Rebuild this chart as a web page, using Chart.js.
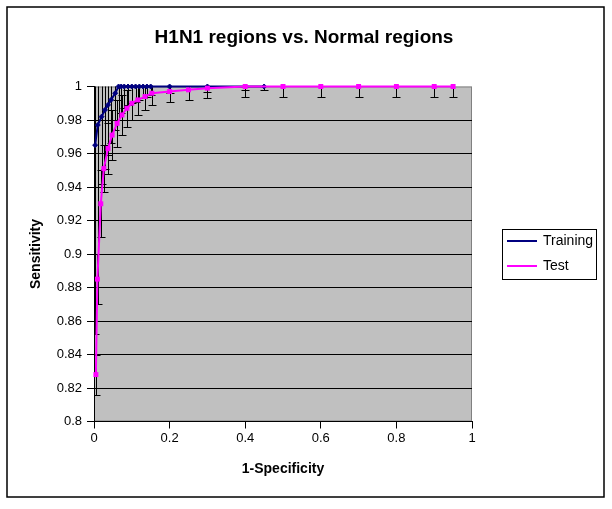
<!DOCTYPE html>
<html>
<head>
<meta charset="utf-8">
<script src="https://cdn.jsdelivr.net/npm/chart.js@4.4.0/dist/chart.umd.min.js"></script>
<style>
    body { margin: 0; background: #fff; }
    #wrap { width: 612px; height: 509px; position: relative; }
</style>
</head>
<body>
<div id="wrap"><canvas id="roc"></canvas></div>
<script>
// valores (1-Specificity, Sensitivity, error)
var trainX = [0.003, 0.01, 0.02, 0.029, 0.037, 0.045, 0.056, 0.065, 0.072, 0.08, 0.09, 0.1, 0.11, 0.12, 0.13, 0.14, 0.15, 0.2, 0.3, 0.4, 0.45];
var trainY = [0.965, 0.977, 0.982, 0.986, 0.989, 0.992, 0.996, 1, 1, 1, 1, 1, 1, 1, 1, 1, 1, 1, 1, 1, 1];
var trainErr = [0.113, 0.107, 0.04, 0.035, 0.03, 0.026, 0.022, 0.02, 0.016, 0.013, 0.011, 0.01, 0.009, 0.008, 0.007, 0.006, 0.005, 0.004, 0.003, 0.002, 0.002];

var testX = [0.005, 0.009, 0.018, 0.026, 0.037, 0.048, 0.061, 0.074, 0.087, 0.1, 0.116, 0.135, 0.153, 0.2, 0.25, 0.3, 0.4, 0.5, 0.6, 0.7, 0.8, 0.9, 0.95];
var testY = [0.828, 0.885, 0.93, 0.951, 0.963, 0.971, 0.978, 0.983, 0.987, 0.99, 0.992, 0.994, 0.996, 0.997, 0.998, 0.999, 1, 1, 1, 1, 1, 1, 1];
var testErr = [0.012, 0.015, 0.02, 0.014, 0.015, 0.015, 0.014, 0.012, 0.011, 0.01, 0.009, 0.008, 0.007, 0.006, 0.006, 0.006, 0.006, 0.006, 0.006, 0.006, 0.006, 0.006, 0.006];

var xTicks = [0, 0.2, 0.4, 0.6, 0.8, 1];
var yTicks = [0.8, 0.82, 0.84, 0.86, 0.88, 0.9, 0.92, 0.94, 0.96, 0.98, 1];

var fam = '"Liberation Sans", Arial, sans-serif';

function puntos(xs, ys) {
    return xs.map(function (x, i) { return { x: x, y: ys[i] }; });
}

var errores = [trainErr, testErr];

// fondo gris del area del grafico
var fondo = {
    id: 'fondo',
    beforeDraw: function (chart) {
        var a = chart.chartArea, c = chart.ctx;
        c.save();
        c.fillStyle = '#c0c0c0';
        c.fillRect(a.left, a.top, a.right - a.left, a.bottom - a.top);
        c.strokeStyle = '#808080';
        c.lineWidth = 1;
        c.strokeRect(a.left + 0.5, a.top + 0.5, a.right - a.left - 1, a.bottom - a.top - 1);
        c.restore();
    }
};

// barras de error verticales
var barrasError = {
    id: 'barrasError',
    beforeDatasetsDraw: function (chart) {
        var c = chart.ctx, a = chart.chartArea;
        var sx = chart.scales.x, sy = chart.scales.y;
        c.save();
        c.beginPath();
        c.rect(a.left, a.top, a.right - a.left, a.bottom - a.top);
        c.clip();
        c.strokeStyle = '#000';
        c.lineWidth = 1;
        chart.data.datasets.forEach(function (ds, d) {
            ds.data.forEach(function (p, i) {
                var e = errores[d][i];
                var px = Math.round(sx.getPixelForValue(p.x)) + 0.5;
                var y1 = Math.round(sy.getPixelForValue(p.y + e)) + 0.5;
                var y2 = Math.round(sy.getPixelForValue(p.y - e)) + 0.5;
                c.beginPath();
                c.moveTo(px, y1); c.lineTo(px, y2);
                c.moveTo(px - 4, y1); c.lineTo(px + 4, y1);
                c.moveTo(px - 4, y2); c.lineTo(px + 4, y2);
                c.stroke();
            });
        });
        c.restore();
    }
};

// coloca titulo y leyenda, marco exterior
var marco = {
    id: 'marco',
    afterLayout: function (chart) {
        var t = chart.titleBlock;
        t.left = 0; t.right = 608; t.width = 608;
        var lg = chart.legend;
        var w = lg.width;
        lg.left = 497; lg.right = 497 + w;
        lg.top = 207; lg.bottom = 300; lg.height = 93;
    },
    afterDraw: function (chart) {
        var c = chart.ctx;
        c.save();
        c.strokeStyle = '#000';
        c.lineWidth = 1;
        c.strokeRect(502.5, 229.5, 94, 50);
        c.lineWidth = 1.5;
        c.strokeRect(7, 7, 597, 490);
        c.restore();
    }
};

var ctx = document.getElementById('roc').getContext('2d');
var grafica = new Chart(ctx, {
    type: 'scatter',
    data: {
        datasets: [{
            label: 'Training',
            data: puntos(trainX, trainY),
            showLine: true,
            borderColor: '#000080',
            backgroundColor: '#000080',
            borderWidth: 2,
            pointStyle: 'rectRot',
            pointRadius: 2.5,
            pointBorderWidth: 1,
            order: 1,
            clip: false
        },
        {
            label: 'Test',
            data: puntos(testX, testY),
            showLine: true,
            borderColor: '#ff00ff',
            backgroundColor: '#ff00ff',
            borderWidth: 2,
            pointStyle: 'rect',
            pointRadius: 3.5,
            pointBorderWidth: 0,
            order: 0,
            clip: false
        }]
    },
    options: {
        responsive: true,
        maintainAspectRatio: false,
        animation: false,
        layout: { padding: { left: 10, right: 140, top: 0, bottom: 20 } },
        plugins: {
            tooltip: { enabled: false },
            title: {
                display: true,
                text: 'H1N1 regions vs. Normal regions',
                color: '#000',
                font: { size: 19, weight: 'bold', family: fam },
                padding: { top: 26.6, bottom: 37.1 }
            },
            legend: {
                position: 'chartArea',
                labels: {
                    boxWidth: 28,
                    boxHeight: 0.01,
                    padding: 11,
                    color: '#000',
                    font: { size: 14, family: fam },
                    sort: function (a, b) { return a.datasetIndex - b.datasetIndex; }
                }
            }
        },
        scales: {
            x: {
                type: 'linear',
                min: 0,
                max: 1,
                afterBuildTicks: function (s) { s.ticks = xTicks.map(function (v) { return { value: v }; }); },
                afterFit: function (s) { s.height = 67.5; },
                grid: { drawOnChartArea: false, drawTicks: true, tickLength: 7, tickColor: '#000' },
                border: { color: '#000', width: 1 },
                ticks: {
                    color: '#000',
                    padding: 2,
                    maxRotation: 0,
                    font: { size: 13, family: fam },
                    callback: function (v) { return String(v); }
                },
                title: {
                    display: true,
                    text: '1-Specificity',
                    color: '#000',
                    font: { size: 14, weight: 'bold', family: fam },
                    padding: { top: 0, bottom: 11.6 }
                }
            },
            y: {
                type: 'linear',
                min: 0.8,
                max: 1,
                afterBuildTicks: function (s) { s.ticks = yTicks.map(function (v) { return { value: v }; }); },
                afterFit: function (s) { s.width = 84; },
                grid: {
                    color: function (c) { return c.tick && c.tick.value >= 1 ? 'rgba(0,0,0,0)' : '#000'; },
                    tickColor: '#000',
                    tickLength: 7
                },
                border: { color: '#000', width: 1 },
                ticks: {
                    color: '#000',
                    padding: 5,
                    font: { size: 13, family: fam },
                    callback: function (v) { return String(v); }
                },
                title: {
                    display: true,
                    text: 'Sensitivity',
                    color: '#000',
                    font: { size: 14, weight: 'bold', family: fam },
                    padding: { top: 17.6, bottom: 0 }
                }
            }
        }
    },
    plugins: [fondo, barrasError, marco]
});
</script>
</body>
</html>
